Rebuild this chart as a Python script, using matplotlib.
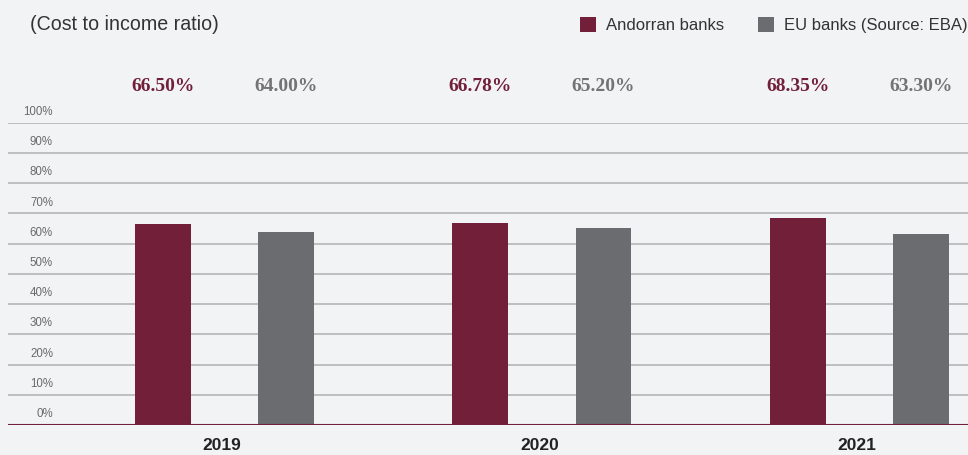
import numpy as np
import matplotlib.pyplot as plt
from matplotlib.patches import Patch
from matplotlib.transforms import blended_transform_factory

# -------------------------- DATA --------------------------
years = ['2019', '2020', '2021']
andorran = [66.50, 66.78, 68.35]
eu_banks = [64.00, 65.20, 63.30]
y_ticks = list(range(0, 101, 10))

maroon = '#72203a'
grey = '#6b6c70'
bg = '#f2f3f5'

# -------------------------- FIGURE --------------------------
fig = plt.figure(figsize=(9.68, 4.55), dpi=100, facecolor=bg)
ax = fig.add_axes([8 / 968, 1 - 425 / 455, 960 / 968, (425 - 122.7) / 455])
ax.set_facecolor(bg)

x = np.arange(len(years))
offset = 0.194
width = 0.176

ax.bar(x - offset, andorran, width, color=maroon, zorder=3)
ax.bar(x + offset, eu_banks, width, color=grey, zorder=3)

ax.set_xlim(-0.682, 2.342)
ax.set_ylim(0, 100)

# horizontal gridlines with labels sitting above them
for t in y_ticks[1:]:
    ax.axhline(t, color='#b5b5b7', lw=1.2, zorder=1)
ax.axhline(0, color=maroon, lw=1.5, zorder=4)

trans = blended_transform_factory(ax.transAxes, ax.transData)
for t in y_ticks:
    ax.text(45 / 960, t + 3.6, f'{t}%', transform=trans, ha='right', va='center',
            fontsize=8.3, color='#6a6a6a', family='Liberation Sans')

# value labels in a row above the plot
for i in range(len(years)):
    ax.text(x[i] - offset, 112.1, f'{andorran[i]:.2f}%', ha='center', va='center',
            fontsize=14, fontweight='bold', color=maroon, family='Liberation Serif',
            clip_on=False)
    ax.text(x[i] + offset, 112.1, f'{eu_banks[i]:.2f}%', ha='center', va='center',
            fontsize=14, fontweight='bold', color='#737373', family='Liberation Serif',
            clip_on=False)
    ax.text(x[i] - 0.008, -6.8, years[i], ha='center', va='center', fontsize=12.5,
            fontweight='bold', color='#222222', family='Liberation Sans', clip_on=False)

ax.set_xticks([])
ax.set_yticks([])
for s in ax.spines.values():
    s.set_visible(False)

fig.text(30 / 968, 1 - 25 / 455, '(Cost to income ratio)', ha='left', va='center',
         fontsize=14.1, color='#333333', family='Liberation Sans')

handles = [Patch(facecolor=maroon, label='Andorran banks'),
           Patch(facecolor=grey, label='EU banks (Source: EBA)')]
fig.legend(handles=handles, loc='center right', bbox_to_anchor=(1.0155, 1 - 25 / 455),
           ncol=2, frameon=False, handlelength=1.0, handleheight=1.0,
           handletextpad=0.6, columnspacing=2.0,
           prop={'family': 'Liberation Sans', 'size': 12}, labelcolor='#333333')

plt.savefig('out.png', dpi=100, facecolor=bg)
